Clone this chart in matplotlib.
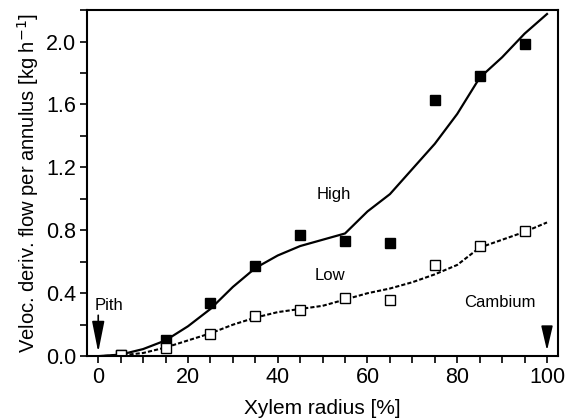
import matplotlib
matplotlib.use("Agg")
import matplotlib.pyplot as plt
from matplotlib.ticker import MultipleLocator

plt.rcParams['font.family'] = ['Liberation Sans', 'DejaVu Sans']

# Measured points (annulus centres)
radius = [5, 15, 25, 35, 45, 55, 65, 75, 85, 95]
high = [0.01, 0.10, 0.34, 0.57, 0.77, 0.73, 0.72, 1.63, 1.78, 1.985]
low = [0.005, 0.055, 0.144, 0.254, 0.296, 0.37, 0.36, 0.578, 0.70, 0.796]

# Fitted curves
fit_x = [0, 5, 10, 15, 20, 25, 30, 35, 40, 45, 50, 55, 60, 65, 70, 75, 80, 85, 90, 95, 100]
fit_high = [0.0, 0.01, 0.045, 0.10, 0.19, 0.30, 0.44, 0.56, 0.64, 0.70, 0.74, 0.78,
            0.92, 1.03, 1.19, 1.35, 1.54, 1.77, 1.90, 2.05, 2.175]
fit_low = [0.0, 0.005, 0.02, 0.055, 0.10, 0.145, 0.20, 0.245, 0.28, 0.30, 0.32, 0.36,
           0.40, 0.43, 0.47, 0.52, 0.58, 0.69, 0.74, 0.79, 0.85]

fig = plt.figure(figsize=(5.65, 4.2), dpi=100)
ax = fig.add_axes([0.154, 0.152, 0.834, 0.824])

ax.plot(fit_x, fit_high, color='black', lw=1.6)
ax.plot(fit_x, fit_low, color='black', lw=1.5, linestyle=(0, (2, 1)))
ax.plot(radius, high, 's', color='black', markersize=6.5)
ax.plot(radius, low, 's', markerfacecolor='white', markeredgecolor='black',
        markersize=6.5, markeredgewidth=1.0)

ax.text(52.5, 1.03, 'High', ha='center', va='center', fontsize=12)
ax.text(51.7, 0.51, 'Low', ha='center', va='center', fontsize=12)
ax.text(89.6, 0.34, 'Cambium', ha='center', va='center', fontsize=12)
ax.text(2.4, 0.32, 'Pith', ha='center', va='center', fontsize=12)

ax.annotate('', xy=(0, 0.025), xytext=(0, 0.26),
            arrowprops=dict(arrowstyle='-|>,head_length=1.9,head_width=0.38', color='black',
                            lw=1.2, mutation_scale=10, shrinkA=0, shrinkB=0))
ax.annotate('', xy=(100, 0.035), xytext=(100, 0.17),
            arrowprops=dict(arrowstyle='-|>,head_length=1.5,head_width=0.35', color='black',
                            lw=1.2, mutation_scale=10, shrinkA=0, shrinkB=0))

ax.set_xlim(-2.5, 102.5)
ax.set_ylim(0, 2.2)
ax.xaxis.set_major_locator(MultipleLocator(20))
ax.xaxis.set_minor_locator(MultipleLocator(5))
ax.yaxis.set_major_locator(MultipleLocator(0.4))
ax.yaxis.set_minor_locator(MultipleLocator(0.2))
ax.yaxis.set_major_formatter(plt.FuncFormatter(lambda v, p: f'{v:.1f}'))
ax.tick_params(which='both', direction='out', length=5, width=1.2, labelsize=15.5, pad=3)

for s in ax.spines.values():
    s.set_linewidth(1.5)

ax.set_xlabel('Xylem radius [%]', fontsize=15, labelpad=8)
ax.set_ylabel('Veloc. deriv. flow per annulus [kg h$^{-1}$]', fontsize=14.5, labelpad=3)

fig.savefig('out.png', dpi=100)
